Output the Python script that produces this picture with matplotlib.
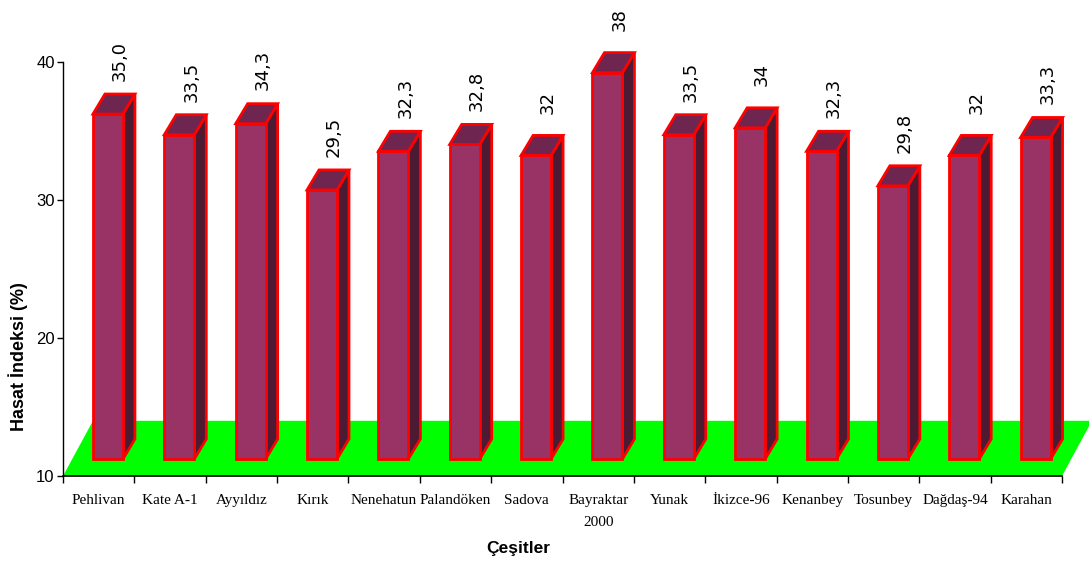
import matplotlib.pyplot as plt
from matplotlib.patches import Polygon

# Harvest index per variety
varieties = ['Pehlivan', 'Kate A-1', 'Ayyıldız', 'Kırık', 'Nenehatun', 'Palandöken',
             'Sadova', 'Bayraktar\n2000', 'Yunak', 'İkizce-96', 'Kenanbey',
             'Tosunbey', 'Dağdaş-94', 'Karahan']
values = [35.0, 33.5, 34.3, 29.5, 32.3, 32.8, 32.0, 38.0, 33.5, 34.0, 32.3, 29.8, 32.0, 33.3]
value_labels = ['35,0', '33,5', '34,3', '29,5', '32,3', '32,8', '32', '38',
                '33,5', '34', '32,3', '29,8', '32', '33,3']

base = 10
front_col = '#993366'
top_col = '#6E2550'
side_col = '#4C1A33'
edge_col = '#FF0000'

fig = plt.figure(figsize=(10.89, 5.62), dpi=100)
ax = fig.add_axes([63 / 1089, 86 / 562, 999 / 1089, 414 / 562])
ax.set_xlim(0, len(varieties))
ax.set_ylim(base, 40)

# green floor seen in perspective
fdx, fdy = 0.42, 4.0
floor = Polygon([(0, base), (len(varieties), base),
                 (len(varieties) + fdx, base + fdy), (fdx, base + fdy)],
                closed=True, facecolor='#00FF00', edgecolor='none',
                clip_on=False, zorder=1)
ax.add_patch(floor)

# 3D-looking bars
w = 0.42          # front face width
ox, oy = 0.13, 1.23   # shift of bar front from floor edge
dx, dy = 0.168, 1.45  # depth of the bar
for i, v in enumerate(values):
    x0 = i + 0.5 + ox - w / 2
    x1 = x0 + w
    y0 = base + oy
    y1 = y0 + (v - base)
    front = Polygon([(x0, y0), (x1, y0), (x1, y1), (x0, y1)],
                    facecolor=front_col, edgecolor=edge_col, lw=2,
                    joinstyle='miter', clip_on=False, zorder=3)
    side = Polygon([(x1, y0), (x1 + dx, y0 + dy), (x1 + dx, y1 + dy), (x1, y1)],
                   facecolor=side_col, edgecolor=edge_col, lw=2,
                   joinstyle='miter', clip_on=False, zorder=3)
    top = Polygon([(x0, y1), (x1, y1), (x1 + dx, y1 + dy), (x0 + dx, y1 + dy)],
                  facecolor=top_col, edgecolor=edge_col, lw=2,
                  joinstyle='miter', clip_on=False, zorder=3)
    for p in (side, top, front):
        ax.add_patch(p)
    # value text centred a fixed distance above the back edge of the top
    ax.annotate(value_labels[i], xy=(i + 0.5 + ox + dx, y1 + dy),
                xytext=(0, 24), textcoords='offset points',
                rotation=90, ha='center', va='center',
                fontsize=13, family='DejaVu Sans', annotation_clip=False)

# axes styling
for s in ('top', 'right'):
    ax.spines[s].set_visible(False)
ax.spines['left'].set_linewidth(1.0)
ax.spines['bottom'].set_linewidth(1.2)
ax.spines['left'].set_zorder(5)
ax.spines['bottom'].set_zorder(5)

ax.set_yticks([10, 20, 30, 40])
ax.set_yticklabels(['10', '20', '30', '40'], family='Liberation Sans', fontsize=12)
ax.tick_params(axis='y', length=4, width=1, pad=2)

ax.set_xticks(range(len(varieties) + 1))
ax.set_xticklabels([])
ax.set_xticks([i + 0.5 for i in range(len(varieties))], minor=True)
ax.set_xticklabels(varieties, minor=True, family='Liberation Serif', fontsize=11,
                   linespacing=1.9)
ax.tick_params(axis='x', which='major', length=5, width=1)
ax.tick_params(axis='x', which='minor', length=0, pad=13)

fig.text(18 / 1089, 1 - 357 / 562, 'Hasat İndeksi (%)', rotation=90,
         ha='center', va='center', fontsize=13, fontweight='bold',
         family='Liberation Sans')
fig.text(518 / 1089, 1 - 548 / 562, 'Çeşitler', ha='center', va='center',
         fontsize=12.5, fontweight='bold', family='Liberation Sans')

fig.savefig('out.png', dpi=100)
